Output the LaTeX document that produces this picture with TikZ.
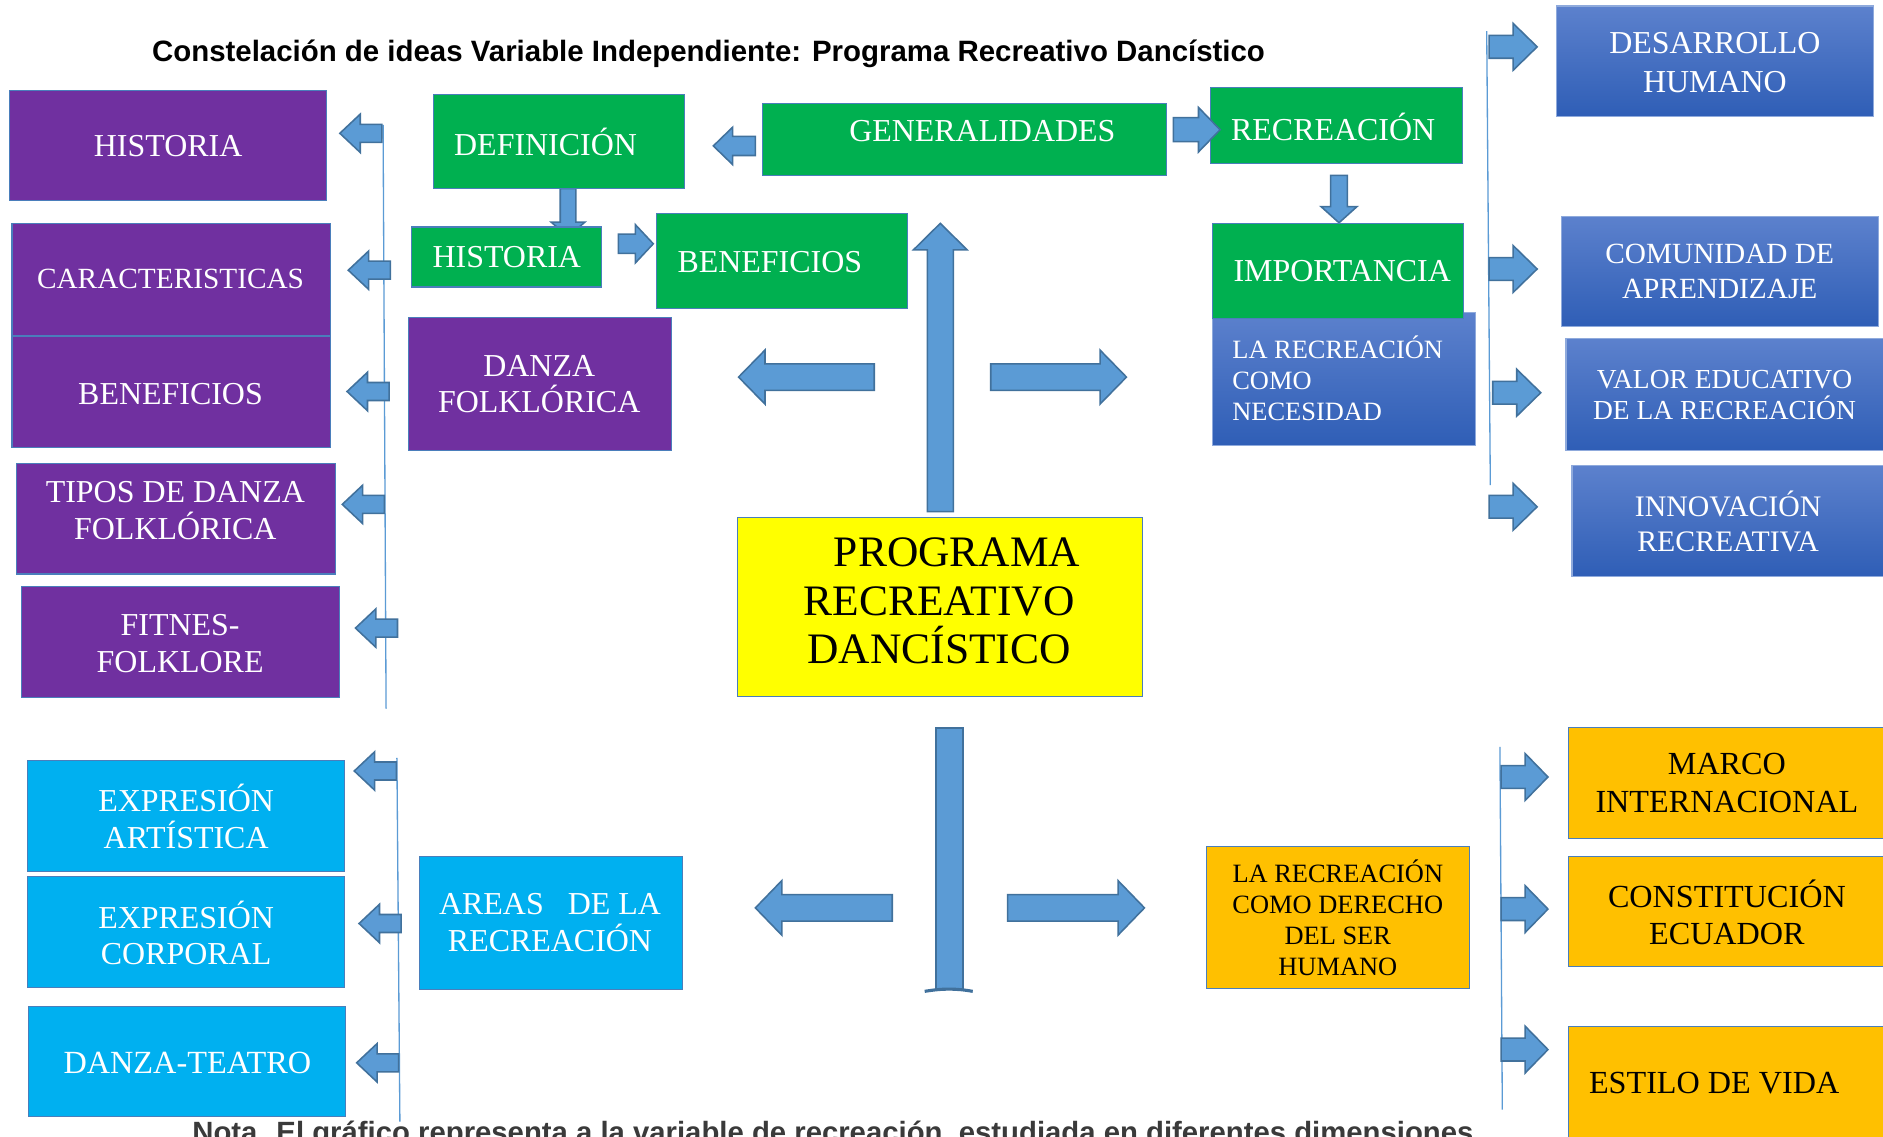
\documentclass[tikz,border=0pt]{standalone}
\usepackage{fontspec}
\setmainfont{Liberation Serif}
\newfontfamily\arialf{Liberation Sans}
\definecolor{purp}{HTML}{7030A0}
\definecolor{grn}{HTML}{00B050}
\definecolor{cyn}{HTML}{00B0F0}
\definecolor{org}{HTML}{FFC000}
\definecolor{yel}{HTML}{FFFF00}
\definecolor{arrfill}{HTML}{5B9BD5}
\definecolor{arrline}{HTML}{41719C}
\definecolor{bord}{HTML}{4A7EBB}
\definecolor{lightbord}{HTML}{8FAADC}
\definecolor{blutop}{HTML}{5C81CD}
\definecolor{blubot}{HTML}{2F5EB6}
\definecolor{vline}{HTML}{5B9BD5}
\definecolor{notegray}{HTML}{3A3A3A}
\newcommand\fs[2]{\fontsize{#1}{#2}\selectfont}
% box: name, style, x1, y1, x2, y2
\newcommand\mkbox[6]{\node[#2, minimum width={(#5-#3)*1pt}, minimum height={(#6-#4)*1pt}] (#1) at ({(#3+#5)/2},{(#4+#6)/2}) {};}
% block arrow: x, y (tail centre), angle, length, shaft half, head half, head length
\newcommand\barrow[7]{\draw[arrowshape, shift={(#1,#2)}, rotate=#3] (0,#5) -- ({#4-#7},#5) -- ({#4-#7},#6) -- (#4,0) -- ({#4-#7},-#6) -- ({#4-#7},-#5) -- (0,-#5) -- cycle;}
\tikzset{
  box/.style={rectangle, draw=bord, line width=0.9pt, inner sep=0pt},
  purplebox/.style={box, fill=purp},
  greenbox/.style={box, fill=grn},
  cyanbox/.style={box, fill=cyn},
  orangebox/.style={box, fill=org},
  yellowbox/.style={box, fill=yel},
  bluebox/.style={rectangle, draw=lightbord, line width=0.9pt, inner sep=0pt, top color=blutop, bottom color=blubot},
  txtw/.style={inner sep=0pt, align=center, text=white, font=\fs{26.6}{30.5}},
  txtk/.style={inner sep=0pt, align=center, text=black, font=\fs{26.8}{31}},
  arrowshape/.style={fill=arrfill, draw=arrline, line width=1.3pt, line join=miter},
  guideline/.style={draw=vline, line width=1.1pt},
}
\begin{document}
\begin{tikzpicture}[x=1pt,y=-1pt]
\useasboundingbox (0,0) rectangle (1568,946);
\clip (0,0) rectangle (1568,946);
\fill[white] (0,0) rectangle (1568,946);

% title and note
\node[inner sep=0pt, anchor=base, font=\arialf\bfseries\fs{24.5}{29}] (title) at (590,51) {Constelación de ideas Variable Independiente: Programa Recreativo Dancístico};
\node[inner sep=0pt, anchor=base west, text=notegray, font=\arialf\bfseries\fs{24.4}{29}] (nota) at (160,951) {Nota. El gráfico representa a la variable de recreación, estudiada en diferentes dimensiones};

% guide lines
\draw[guideline] (319,104) -- (321.5,590);
\draw[guideline] (1238,26) -- (1241,404);
\draw[guideline] (330.5,631) -- (333,934);
\draw[guideline] (1249,622) -- (1251,924);

% left purple column
\mkbox{phist}{purplebox}{8}{75}{272}{167}
\node[txtw] (phistt) at (140,121.5) {HISTORIA};
\mkbox{pcar}{purplebox}{10}{186}{275}{279}
\node[txtw, font=\fs{24.4}{29}] (pcart) at (142,232) {CARACTERISTICAS};
\mkbox{pben}{purplebox}{10}{280}{275}{373}
\node[txtw] (pbent) at (142,328) {BENEFICIOS};
\mkbox{ptip}{purplebox}{14}{386}{279}{478}
\node[txtw] (ptipt) at (146,425) {TIPOS DE DANZA\\FOLKLÓRICA};
\mkbox{pfit}{purplebox}{18}{488}{283}{581}
\node[txtw] (pfitt) at (150,536) {FITNES-\\FOLKLORE};
\barrow{318}{111}{180}{35}{7.5}{16}{17}
\barrow{325}{225}{180}{35}{7.5}{16}{17}
\barrow{324}{326}{180}{35}{7.5}{16}{17}
\barrow{320}{420}{180}{35}{7.5}{16}{17}
\barrow{331}{523}{180}{35}{7.5}{16}{17}

% top green cluster
\barrow{473}{157}{-90}{40}{6.5}{14}{12}
\barrow{1115}{146}{-90}{39.5}{7}{15}{13.5}
\mkbox{def}{greenbox}{361}{79}{570}{157}
\node[txtw, anchor=west] (deft) at (378,118) {DEFINICIÓN};
\mkbox{gen}{greenbox}{635}{86}{971}{146}
\node[txtw] (gent) at (818,109) {GENERALIDADES};
\mkbox{rec}{greenbox}{1008}{73}{1218}{136}
\node[txtw, anchor=west] (rect) at (1025,106) {RECREACIÓN};
\mkbox{ghist}{greenbox}{343}{189}{501}{239}
\node[txtw, anchor=west] (ghistt) at (360,214) {HISTORIA};
\mkbox{gben}{greenbox}{547}{178}{756}{257}
\node[txtw, anchor=west] (gbent) at (564,218) {BENEFICIOS};
\mkbox{nec}{bluebox}{1010}{260}{1229}{371}
\node[txtw, anchor=west, align=left, font=\fs{22}{26}] (nect) at (1026,315) {LA RECREACIÓN\\COMO\\NECESIDAD};
\mkbox{imp}{greenbox}{1010}{186}{1219}{265}
\node[txtw, anchor=west] (impt) at (1027,226) {IMPORTANCIA};
\barrow{629}{121.5}{180}{35}{8}{15.5}{16}
\barrow{515}{203}{0}{29}{8}{16}{15}
\barrow{977}{108}{0}{39}{10}{18.5}{18}

\mkbox{danza}{purplebox}{340}{264}{559}{375}
\node[txtw] (danzat) at (449,320) {DANZA\\FOLKLÓRICA};

% right blue column
\mkbox{desa}{bluebox}{1296}{5}{1560}{97}
\node[txtw, font=\fs{26.6}{32}] (desat) at (1428,52) {DESARROLLO\\HUMANO};
\mkbox{comu}{bluebox}{1300}{180}{1564}{272}
\node[txtw, font=\fs{24.4}{29}] (comut) at (1432,226) {COMUNIDAD DE\\APRENDIZAJE};
\mkbox{valor}{bluebox}{1304}{282}{1575}{375}
\node[txtw, font=\fs{22.9}{26}] (valort) at (1436,329) {VALOR EDUCATIVO\\DE LA RECREACIÓN};
\mkbox{innov}{bluebox}{1309}{388}{1575}{480}
\node[txtw, font=\fs{24.8}{29}] (innovt) at (1439,434) {INNOVACIÓN\\RECREATIVA};
\barrow{1240}{39}{0}{40}{9.5}{19.5}{20}
\barrow{1240}{224}{0}{40}{9.5}{19.5}{20}
\barrow{1243}{327}{0}{40}{9.5}{19.5}{20}
\barrow{1240}{422}{0}{40}{9.5}{19.5}{20}

% centre
\barrow{783}{426}{90}{240}{10.8}{22.3}{22}
\barrow{728}{314}{180}{113}{11}{22.5}{22}
\barrow{825}{314}{0}{113}{11}{22.5}{22}
\mkbox{prog}{yellowbox}{614}{431}{951}{580}
\node[txtk, font=\fs{36.2}{40.5}] (progt) at (782,500.5) {\hspace*{30pt}PROGRAMA\\RECREATIVO\\DANCÍSTICO};
\draw[arrowshape] (779.5,606) rectangle (802,824);
\draw[draw=arrline, line width=2.6pt] (770,825.5) .. controls (785,823) and (796,823) .. (810,825.5);
\barrow{743}{756}{180}{114}{11}{22.7}{22}
\barrow{839}{756}{0}{114}{11}{22.7}{22}

% bottom left cyan
\mkbox{cart}{cyanbox}{23}{633}{287}{726}
\node[txtw] (cartt) at (155,680) {EXPRESIÓN\\ARTÍSTICA};
\mkbox{ccor}{cyanbox}{23}{730}{287}{822}
\node[txtw] (ccort) at (155,777) {EXPRESIÓN\\CORPORAL};
\mkbox{cdan}{cyanbox}{24}{838}{288}{930}
\node[txtw, font=\fs{26.9}{31}] (cdant) at (156,885) {DANZA-TEATRO};
\mkbox{careas}{cyanbox}{349}{713}{568}{824}
\node[txtw] (careast) at (458,768) {AREAS\ \ \ DE LA\\RECREACIÓN};
\barrow{330}{642}{180}{35}{7.5}{16}{17}
\barrow{334}{769}{180}{35}{7.5}{16}{17}
\barrow{332}{885}{180}{35}{7.5}{16}{17}

% bottom right orange
\mkbox{der}{orangebox}{1005}{705}{1224}{823}
\node[txtk, font=\fs{22}{25.7}] (dert) at (1114,764) {LA RECREACIÓN\\COMO DERECHO\\DEL SER\\HUMANO};
\mkbox{marco}{orangebox}{1306}{606}{1575}{698}
\node[txtk] (marcot) at (1438,652) {MARCO\\INTERNACIONAL};
\mkbox{const}{orangebox}{1306}{713}{1575}{805}
\node[txtk] (constt) at (1438,759.5) {CONSTITUCIÓN\\ECUADOR};
\mkbox{estilo}{orangebox}{1306}{855}{1575}{960}
\node[txtk, anchor=west] (estilot) at (1323,902) {ESTILO DE VIDA};
\barrow{1250}{647}{0}{39}{9.5}{19.5}{19}
\barrow{1250}{757}{0}{39}{9.5}{19.5}{19}
\barrow{1250}{874}{0}{39}{9.5}{19.5}{19}
\end{tikzpicture}
\end{document}
